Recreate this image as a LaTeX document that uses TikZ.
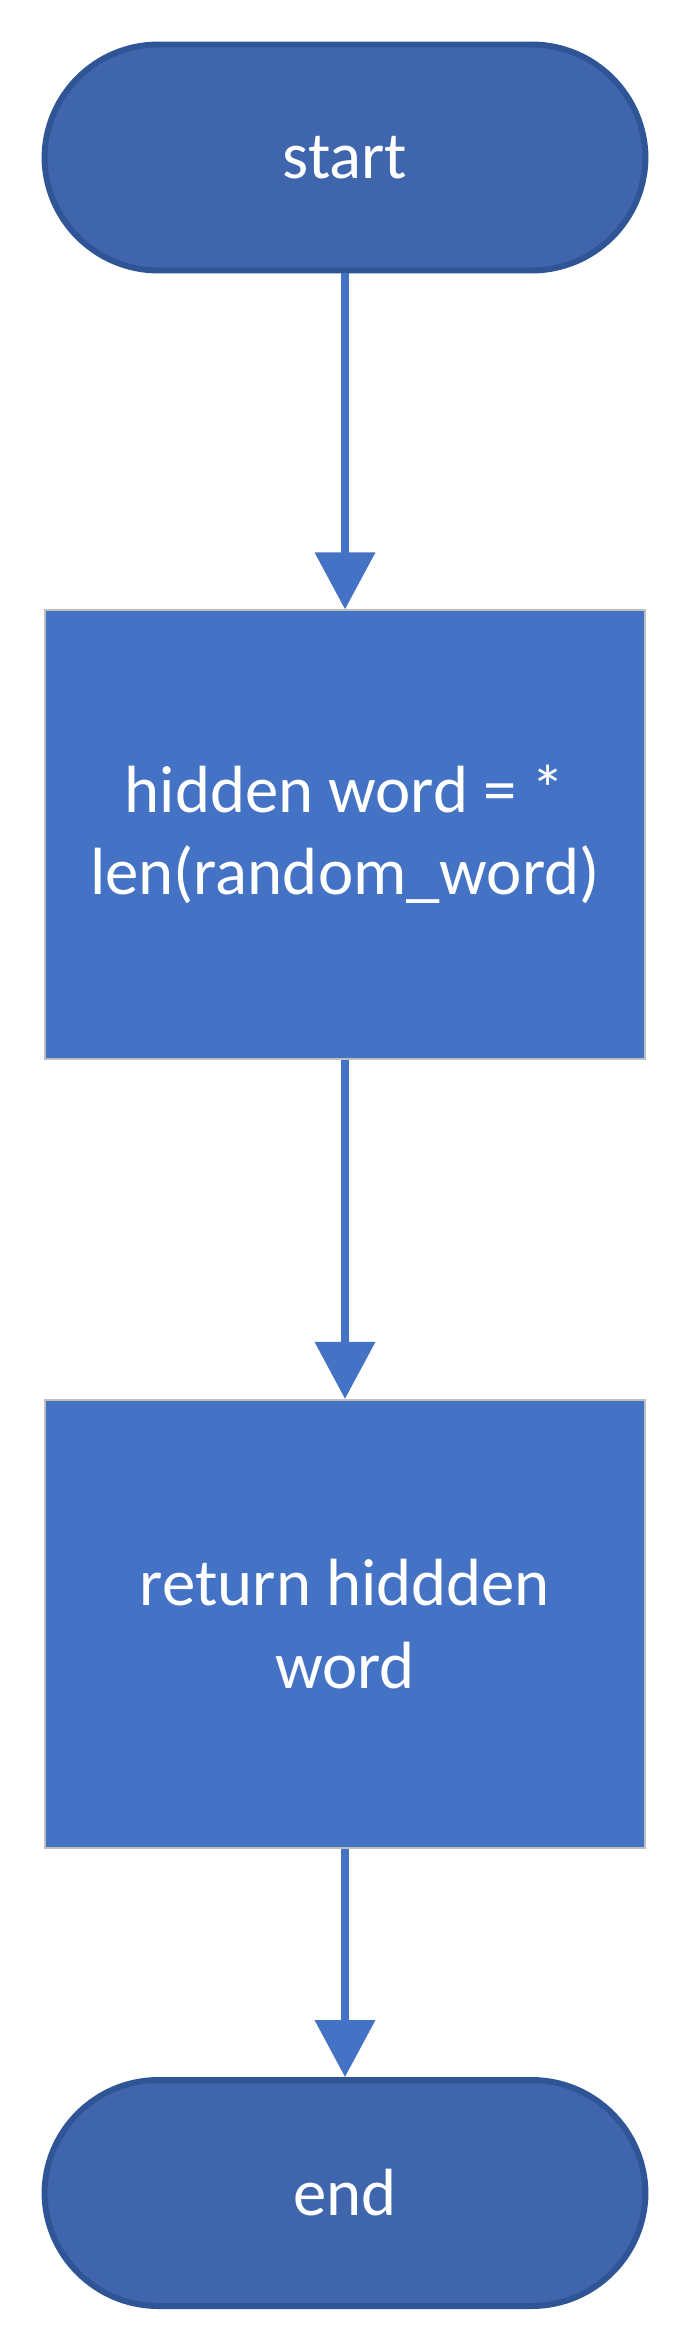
\documentclass[tikz,border=0pt]{standalone}
\usepackage{fontspec}
\setmainfont{Carlito}
\usetikzlibrary{arrows.meta}
\definecolor{termfill}{RGB}{63,101,173}
\definecolor{termline}{RGB}{47,85,151}
\definecolor{procfill}{RGB}{68,114,196}
\definecolor{procline}{RGB}{191,191,191}
\tikzset{
  term/.style={draw=termline, fill=termfill, line width=3.4pt, rounded corners=2.28cm,
               minimum width=12.02cm, minimum height=4.52cm, text=white,
               font=\fontsize{38}{47}\selectfont},
  proc/.style={draw=procline, fill=procfill, line width=1pt,
               minimum width=12cm, minimum height=8.97cm, text=white, align=center,
               font=\fontsize{38}{47}\selectfont},
  flowarr/.style={-{Triangle[length=1.14cm, width=1.18cm]}, procfill, line width=4.2pt},
}

\begin{document}
\begin{tikzpicture}
    \fill[white] (0,0) rectangle (13.8,-47.02);
    \useasboundingbox (0,0) rectangle (13.8,-47.02);
    \node[term] (start) at (6.9,-3.15) {start};
    \node[proc] (hide) at (6.9,-16.69) {hidden word = *\\len(random\_word)};
    \node[proc] (ret) at (6.9,-32.48) {return hiddden\\word};
    \node[term] (end) at (6.9,-43.86) {end};
    \draw[flowarr] (start) -- (hide);
    \draw[flowarr] (hide) -- (ret);
    \draw[flowarr] (ret) -- (end);
  \end{tikzpicture}
\end{document}
